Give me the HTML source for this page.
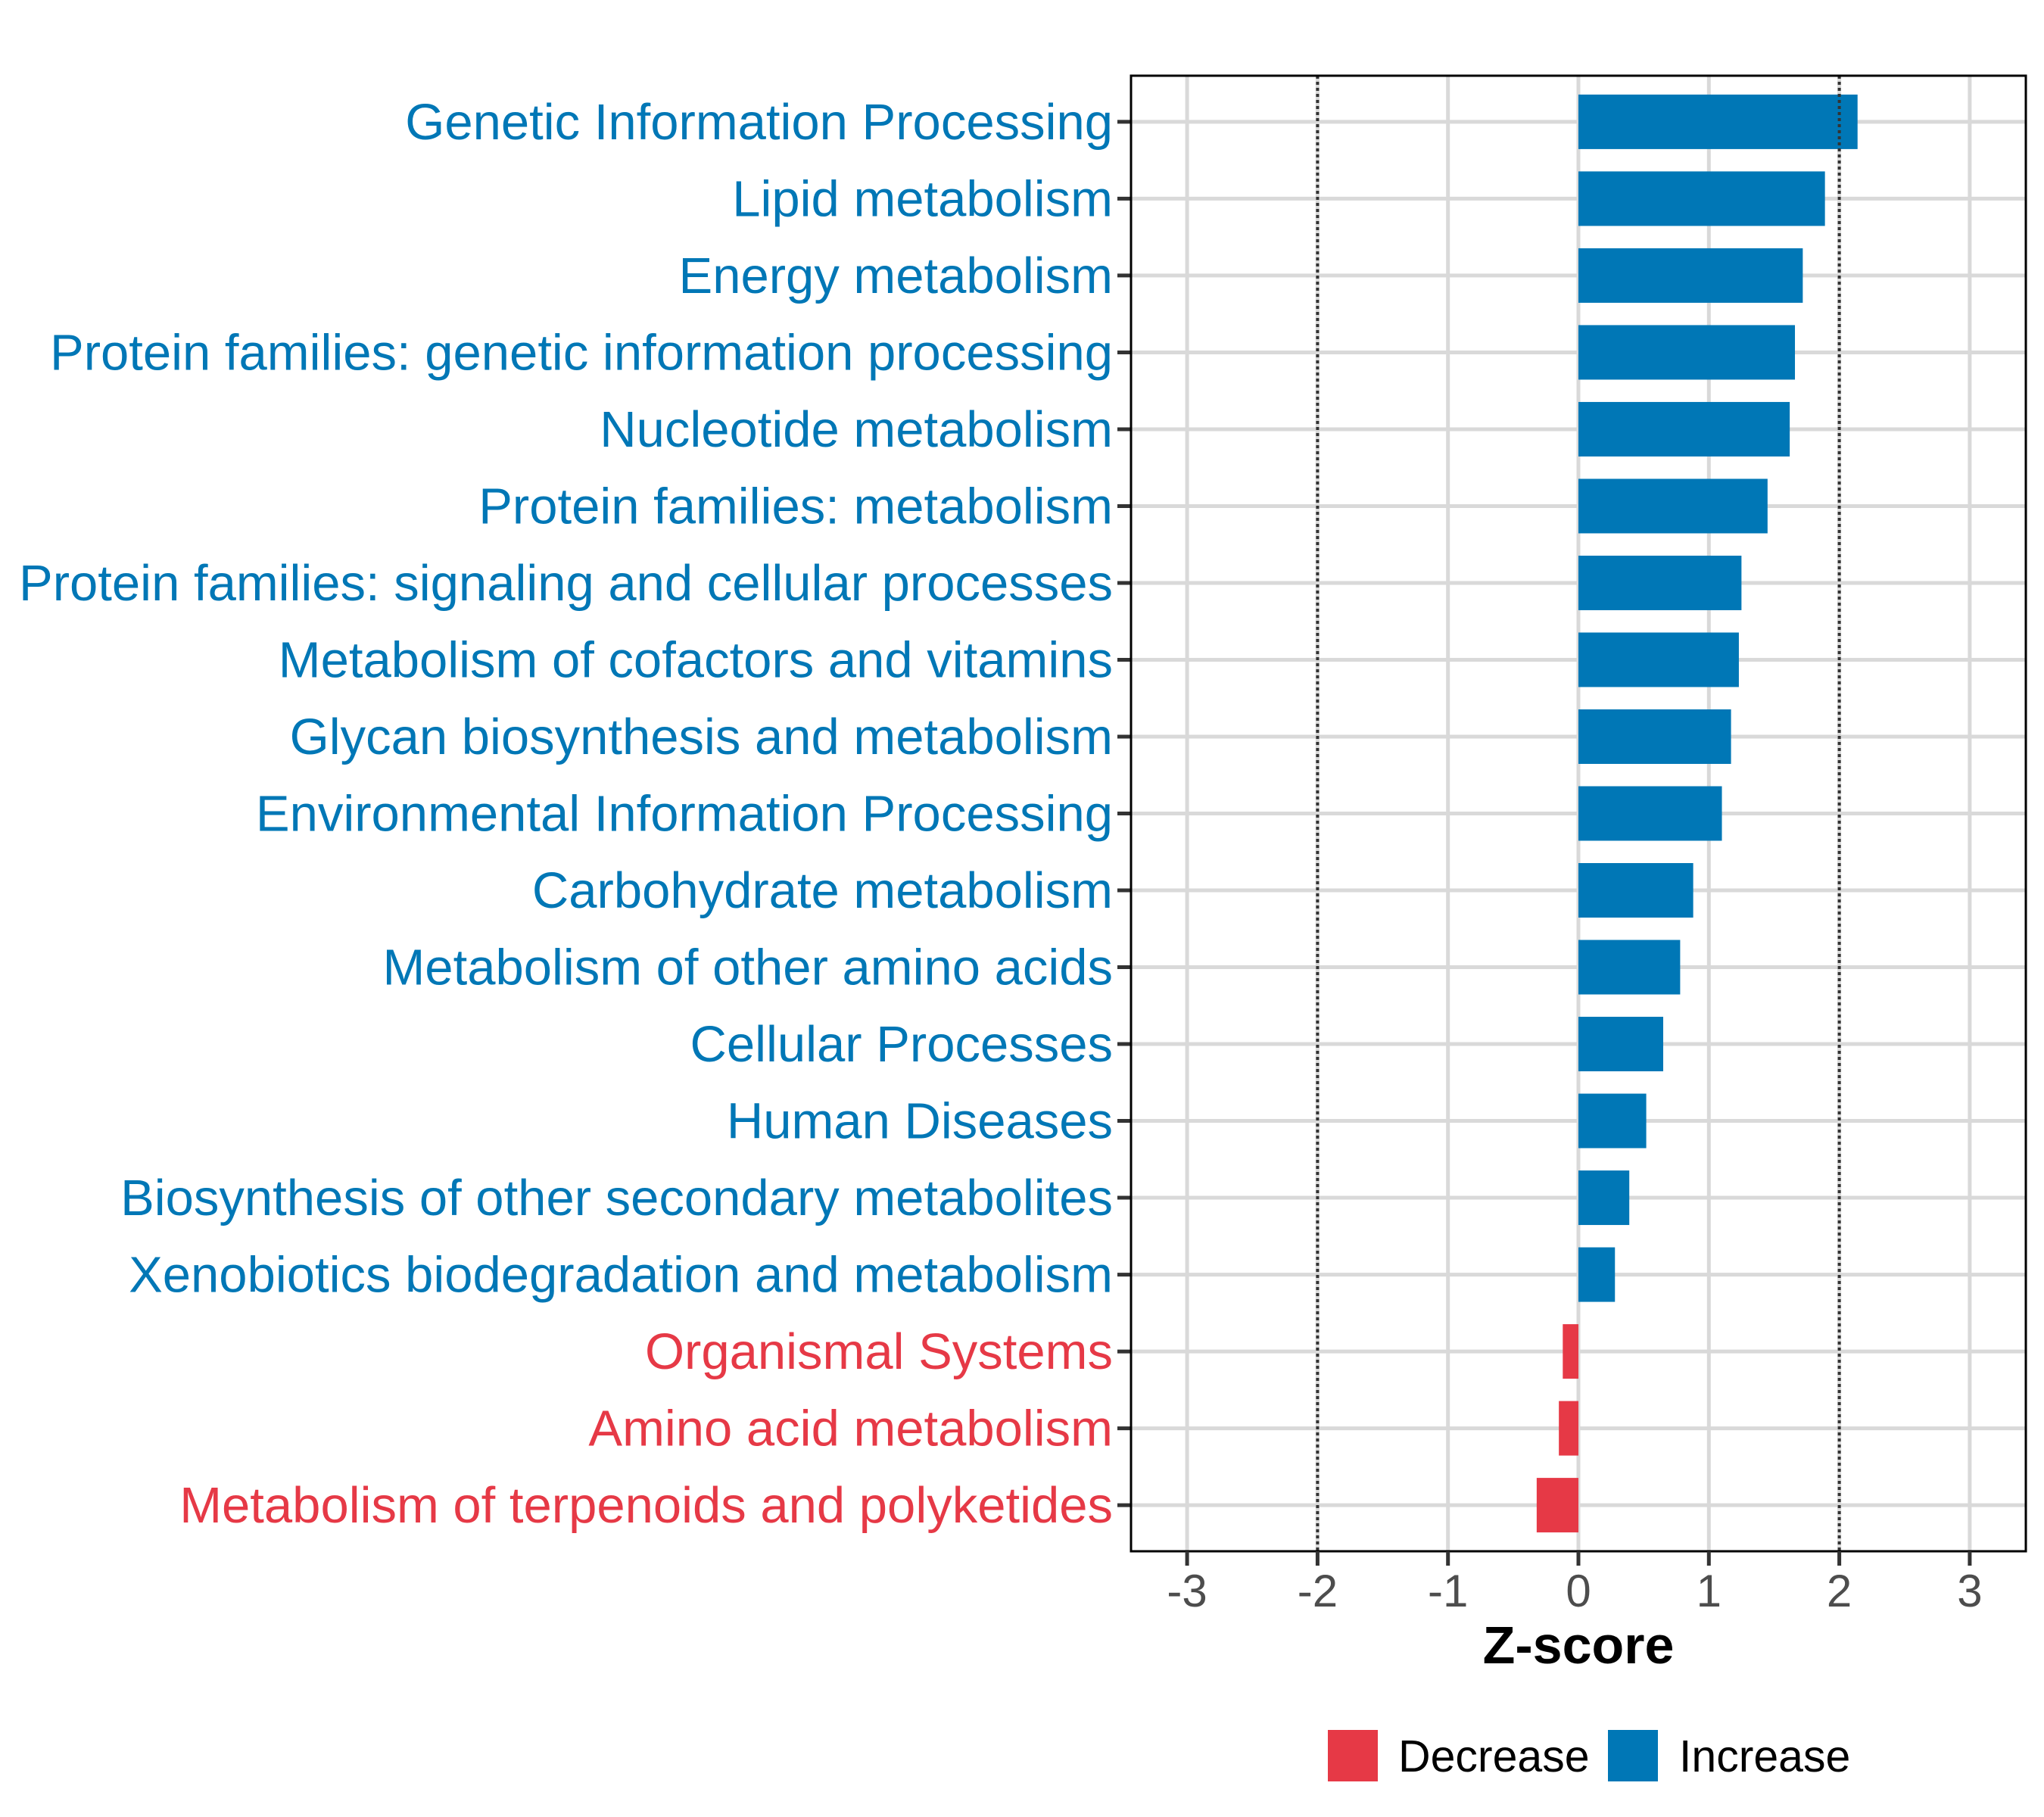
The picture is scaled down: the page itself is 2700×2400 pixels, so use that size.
<!DOCTYPE html>
<html><head><meta charset="utf-8"><style>
html,body{margin:0;padding:0;background:#fff;}
svg{display:block;font-family:"Liberation Sans",Arial,sans-serif;}
</style></head><body>
<svg id="chart" width="2700" height="2400" viewBox="0 0 2700 2400" xmlns="http://www.w3.org/2000/svg">
<g id="grid"></g>
<g id="bars"></g>
<g id="ylabels"></g>
<g id="xaxis"></g>
<text x="2085" y="2197" font-size="70" font-weight="bold" text-anchor="middle" fill="#000">Z-score</text>
<g>
<rect x="1754" y="2285" width="66" height="68" fill="#E63946"/>
<text x="1847" y="2340" font-size="59" fill="#000">Decrease</text>
<rect x="2124" y="2285" width="66" height="68" fill="#0077B6"/>
<text x="2218" y="2340" font-size="59" fill="#000">Increase</text>
</g>
</svg>
<script>
const categories = ["Genetic Information Processing","Lipid metabolism","Energy metabolism","Protein families: genetic information processing","Nucleotide metabolism","Protein families: metabolism","Protein families: signaling and cellular processes","Metabolism of cofactors and vitamins","Glycan biosynthesis and metabolism","Environmental Information Processing","Carbohydrate metabolism","Metabolism of other amino acids","Cellular Processes","Human Diseases","Biosynthesis of other secondary metabolites","Xenobiotics biodegradation and metabolism","Organismal Systems","Amino acid metabolism","Metabolism of terpenoids and polyketides"];
const zscores = [2.14,1.89,1.72,1.66,1.62,1.45,1.25,1.23,1.17,1.10,0.88,0.78,0.65,0.52,0.39,0.28,-0.12,-0.15,-0.32];
const xTicks = [-3,-2,-1,0,1,2,3];
const thresholds = [-2,2];

const NS="http://www.w3.org/2000/svg";
const L=1494,R=2676,T=100,B=2049;
const BLUE="#0077B6",RED="#E63946";
function x(v){return 2085+v*172.3;}
const step=(B-T)/(categories.length-1+1.2);
function y(i){return T+step*(0.6+i);}
function mk(tag,attrs,parent){const e=document.createElementNS(NS,tag);for(const k in attrs)e.setAttribute(k,attrs[k]);parent.appendChild(e);return e;}
const grid=document.getElementById('grid'),bars=document.getElementById('bars'),yl=document.getElementById('ylabels'),xa=document.getElementById('xaxis');
mk('rect',{x:L,y:T,width:R-L,height:B-T,fill:'#fff'},grid);
xTicks.forEach(t=>{const l=mk('line',{x1:x(t),x2:x(t),y1:T,y2:B,stroke:'#d9d9d9','stroke-width':5},grid);

});
categories.forEach((c,i)=>{const l=mk('line',{x1:L,x2:R,y1:y(i),y2:y(i),stroke:'#d9d9d9','stroke-width':5},grid);

});
categories.forEach((c,i)=>{const v=zscores[i];const col=v>=0?BLUE:RED;
const r=mk('rect',{x:Math.min(x(0),x(v)),y:y(i)-36,width:Math.abs(x(v)-x(0)),height:72,fill:col},bars);


const t=mk('text',{x:1470,y:y(i)+23,'font-size':67,'text-anchor':'end',fill:col},yl);t.textContent=c;


const tk=mk('line',{x1:1476,x2:L,y1:y(i),y2:y(i),stroke:'#333','stroke-width':5},yl);

});
thresholds.forEach(t=>{const l=mk('line',{x1:x(t),x2:x(t),y1:T,y2:B,stroke:'#333','stroke-width':4,'stroke-dasharray':'4 4'},bars);

});
const fr=mk('rect',{x:L,y:T,width:R-L,height:B-T,fill:'none',stroke:'#000','stroke-width':3},xa);


xTicks.forEach(t=>{const tk=mk('line',{x1:x(t),x2:x(t),y1:B,y2:B+19,stroke:'#333','stroke-width':5},xa);


const tl=mk('text',{x:x(t),y:2122,'font-size':60,'text-anchor':'middle',fill:'#4d4d4d'},xa);tl.textContent=String(t);

});
</script>
</body></html>
